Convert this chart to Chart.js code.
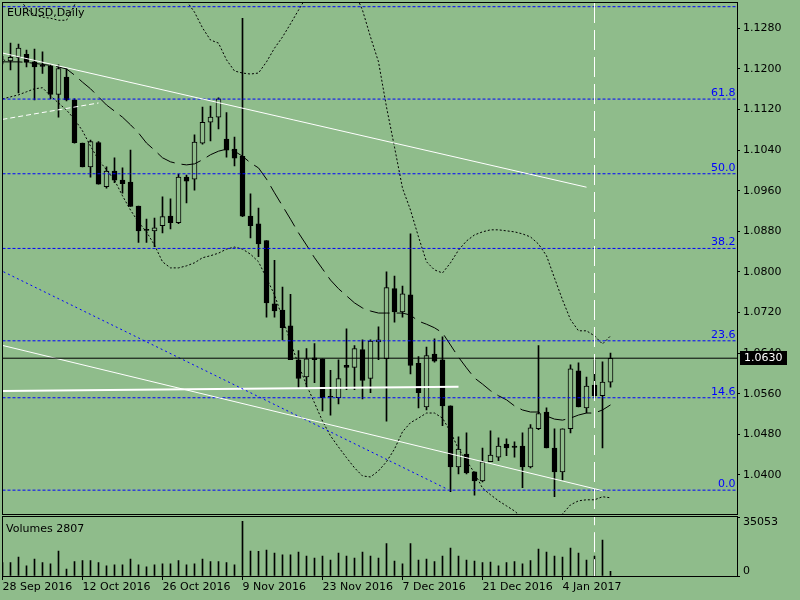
<!DOCTYPE html>
<html><head><meta charset="utf-8">
<script src="https://cdn.jsdelivr.net/npm/chart.js@4.4.0/dist/chart.umd.min.js"></script>
<style>
html,body{margin:0;padding:0;background:rgb(143,188,139);width:800px;height:600px;overflow:hidden}
canvas{position:absolute;left:0}
#main{top:0}
#vol{top:516px}
</style></head><body>
<canvas id="main" width="800" height="516"></canvas>
<canvas id="vol" width="800" height="84"></canvas>
<script>
// ---------- data (EURUSD Daily, bar 0 = 28 Sep 2016) ----------
const open = [1.1216,1.1216,1.1223,1.1229,1.1214,1.1206,1.1206,1.1150,1.1184,1.1139,
1.1054,1.1007,1.1055,1.0968,1.0999,1.0981,1.0977,1.0930,1.0883,1.0881,
1.0891,1.0910,1.0897,1.0987,1.0983,1.1054,1.1095,1.1105,1.1062,1.1042,
1.1028,1.0910,1.0895,1.0862,1.0737,1.0725,1.0694,1.0627,1.0593,1.0631,
1.0629,1.0554,1.0552,1.0616,1.0612,1.0647,1.0590,1.0662,1.0629,1.0767,
1.0721,1.0755,1.0620,1.0534,1.0638,1.0627,1.0536,1.0416,1.0441,1.0406,
1.0388,1.0426,1.0435,1.0461,1.0457,1.0457,1.0416,1.0491,1.0524,1.0453,
1.0406,1.0491,1.0605,1.0532,1.0577,1.0556,1.0583];
const high = [1.1225,1.1251,1.1249,1.1237,1.1239,1.1234,1.1208,1.1208,1.1201,1.1141,
1.1054,1.1060,1.1057,1.1007,1.1025,1.1005,1.1040,1.0930,1.0904,1.0906,
1.0948,1.0944,1.0993,1.0991,1.1070,1.1125,1.1127,1.1143,1.1114,1.1066,
1.1300,1.0954,1.0926,1.0862,1.0823,1.0770,1.0756,1.0645,1.0649,1.0659,
1.0629,1.0606,1.0627,1.0688,1.0655,1.0666,1.0666,1.0692,1.0800,1.0792,
1.0772,1.0875,1.0633,1.0652,1.0668,1.0672,1.0536,1.0475,1.0483,1.0406,
1.0453,1.0487,1.0473,1.0471,1.0465,1.0483,1.0499,1.0655,1.0532,1.0491,
1.0491,1.0617,1.0621,1.0593,1.0627,1.0623,1.0640];
const low = [1.1210,1.1198,1.1153,1.1204,1.1139,1.1191,1.1141,1.1105,1.1137,1.1054,
1.1007,1.0987,1.0973,1.0965,1.0976,1.0955,1.0929,1.0858,1.0858,1.0850,
1.0877,1.0885,1.0895,1.0936,1.0961,1.1052,1.1058,1.1082,1.1026,1.1009,
1.0909,1.0867,1.0830,1.0711,1.0711,1.0666,1.0627,1.0572,1.0572,1.0582,
1.0526,1.0518,1.0540,1.0568,1.0568,1.0550,1.0562,1.0627,1.0506,1.0701,
1.0711,1.0599,1.0532,1.0528,1.0622,1.0497,1.0367,1.0402,1.0402,1.0360,
1.0386,1.0426,1.0428,1.0438,1.0435,1.0375,1.0414,1.0489,1.0453,1.0357,
1.0390,1.0483,1.0534,1.0522,1.0552,1.0453,1.0573];
const close = [1.1218,1.1223,1.1241,1.1213,1.1204,1.1205,1.1150,1.1201,1.1139,1.1055,
1.1007,1.1057,1.0973,1.0999,1.0981,1.0974,1.0929,1.0881,1.0882,1.0887,
1.0909,1.0897,1.0987,1.0979,1.1056,1.1095,1.1105,1.1141,1.1040,1.1024,
1.0910,1.0891,1.0855,1.0739,1.0723,1.0690,1.0627,1.0590,1.0629,1.0627,
1.0552,1.0553,1.0590,1.0612,1.0649,1.0586,1.0664,1.0666,1.0769,1.0721,
1.0757,1.0616,1.0562,1.0635,1.0624,1.0536,1.0416,1.0451,1.0404,1.0388,
1.0426,1.0439,1.0457,1.0453,1.0454,1.0416,1.0493,1.0521,1.0453,1.0406,
1.0491,1.0609,1.0534,1.0575,1.0556,1.0583,1.0630];
const volume = [8000,7900,11300,6100,10100,7900,7300,14850,4150,8500,
9100,9100,7900,6100,6700,6700,10100,6700,5500,6700,
7300,7300,9100,6700,7300,10100,8500,8500,7900,6700,
32500,14850,14650,15450,13650,12650,12650,14250,11900,10700,
11900,9500,13650,11900,10700,14250,11900,10700,19200,8900,
7300,19200,9500,10100,8500,11900,16650,11900,9500,8900,
7900,8300,6100,7900,8500,7300,9100,16050,14250,11900,
11300,16650,13650,9500,11900,21400,2807];
const movingAvg = [1.1214,1.1214,1.1214,1.1213,1.1211,1.1209,1.1207,1.1204,1.1200,1.1188,
1.1174,1.1161,1.1145,1.1129,1.1117,1.1105,1.1090,1.1074,1.1054,1.1040,
1.1025,1.1017,1.1013,1.1011,1.1013,1.1021,1.1031,1.1038,1.1042,1.1038,
1.1028,1.1015,1.1005,1.0983,1.0956,1.0930,1.0904,1.0877,1.0853,1.0828,
1.0806,1.0784,1.0767,1.0753,1.0739,1.0729,1.0723,1.0719,1.0719,1.0719,
1.0719,1.0715,1.0703,1.0697,1.0690,1.0680,1.0656,1.0632,1.0611,1.0591,
1.0579,1.0566,1.0556,1.0548,1.0536,1.0528,1.0524,1.0524,1.0516,1.0510,
1.0508,1.0512,1.0518,1.0522,1.0522,1.0528,1.0538];
const bandUpper = [1.1385,1.1365,1.1340,1.1320,1.1306,1.1302,1.1300,1.1296,1.1296,1.1326,
1.1355,1.1375,1.1405,1.1424,1.1434,1.1444,1.1444,1.1434,1.1424,1.1405,
1.1385,1.1365,1.1350,1.1334,1.1312,1.1281,1.1257,1.1251,1.1218,1.1196,
1.1192,1.1190,1.1192,1.1214,1.1241,1.1263,1.1289,1.1316,1.1342,1.1365,
1.1385,1.1399,1.1405,1.1395,1.1352,1.1316,1.1263,1.1214,1.1125,1.1046,
1.0965,1.0922,1.0869,1.0820,1.0804,1.0798,1.0818,1.0843,1.0861,1.0873,
1.0879,1.0883,1.0883,1.0881,1.0879,1.0875,1.0869,1.0855,1.0832,1.0788,
1.0745,1.0706,1.0684,1.0684,1.0674,1.0658,1.0674];
const bandLower = [1.1141,1.1145,1.1149,1.1155,1.1161,1.1163,1.1147,1.1133,1.1119,1.1101,
1.1078,1.1048,1.1021,1.1001,1.0981,1.0950,1.0922,1.0898,1.0879,1.0853,
1.0820,1.0808,1.0808,1.0812,1.0818,1.0828,1.0832,1.0837,1.0845,1.0849,
1.0845,1.0835,1.0820,1.0788,1.0755,1.0709,1.0662,1.0617,1.0577,1.0542,
1.0506,1.0477,1.0455,1.0434,1.0414,1.0398,1.0396,1.0408,1.0426,1.0451,
1.0485,1.0503,1.0512,1.0522,1.0522,1.0512,1.0485,1.0451,1.0428,1.0404,
1.0374,1.0361,1.0349,1.0339,1.0329,1.0315,1.0307,1.0302,1.0304,1.0311,
1.0323,1.0341,1.0349,1.0351,1.0351,1.0357,1.0355];
const yTicks = [1.0400,1.0480,1.0560,1.0640,1.0720,1.0800,1.0880,1.0960,1.1040,1.1120,1.1200,1.1280];
const tickBars = [0,10,20,30,40,50,60,70];
const tickLabels = ['28 Sep 2016','12 Oct 2016','26 Oct 2016','9 Nov 2016','23 Nov 2016','7 Dec 2016','21 Dec 2016','4 Jan 2017'];
const fibLevels = [0, 14.6, 23.6, 38.2, 50.0, 61.8, 76.4];
const fibLow = 1.0370, fibHigh = 1.1617;
const trendUpper = [[-1,1.1235],[73,1.0967]];
const trendLower = [[-1,1.0659],[75,1.0369]];
const trendBlue = [[-1,1.0809],[55.6,1.0372]];
const trendDashed = [[-1,1.1098],[12,1.1133]];
const trendFlat = [[-1,1.0565],[57,1.0574]];
const vlineBar = 74;
const volMax = 35053;
const symbolTitle = 'EURUSD,Daily';

// ---------- setup ----------
const BG = 'rgb(143,188,139)';
const X_MIN = 0, X_MAX = 91.8125, Y_MIN = 1.0323, Y_MAX = 1.1330;
Chart.defaults.font.family = 'DejaVu Sans';
Chart.defaults.font.size = 11;
Chart.defaults.color = '#000';

const idx = close.map((_, i) => i);
const pts = a => a.map(([x, y]) => ({x, y}));
const series = a => a.map((v, i) => ({x: i, y: v}));
const hline = v => [{x: X_MIN, y: v}, {x: X_MAX, y: v}];
const lastClose = close[close.length - 1];
const fibPrice = l => fibLow + (fibHigh - fibLow) * l / 100;

const lineDs = (data, color, dash, width, order) => ({
  type: 'line', data, borderColor: color, borderWidth: width || 1, borderDash: dash || [],
  pointRadius: 0, fill: false, tension: 0, order: order, spanGaps: true
});

const fitY = s => { s.width = 63; s.paddingTop = 0; s.paddingBottom = 0; };
const fitX = s => { s.height = 24; s.paddingLeft = 0; s.paddingRight = 0; };

const frame = (ctx, ca) => {
  ctx.save();
  ctx.strokeStyle = '#000'; ctx.lineWidth = 1;
  const L = Math.floor(ca.left) + 0.5, T = Math.floor(ca.top) - 0.5;
  const R = Math.floor(ca.right) + 0.5, B = Math.floor(ca.bottom) + 0.5;
  ctx.strokeRect(L, T, R - L, B - T);
  ctx.restore();
};

const mainPlugin = {
  id: 'mainDeco',
  afterDatasetsDraw(chart) {
    const {ctx, chartArea: ca, scales: {y}} = chart;
    ctx.save();
    ctx.beginPath(); ctx.rect(ca.left, ca.top, ca.right - ca.left, ca.bottom - ca.top); ctx.clip();
    ctx.font = '11px "DejaVu Sans"'; ctx.fillStyle = '#0000ff';
    ctx.textAlign = 'right'; ctx.textBaseline = 'alphabetic';
    fibLevels.forEach(l => {
      const base = y.getPixelForValue(fibPrice(l)) - 3;
      if (base - 8 >= ca.top) ctx.fillText(l.toFixed(1), ca.right - 1.5, base);
    });
    ctx.fillStyle = '#000'; ctx.textAlign = 'left';
    ctx.fillText(symbolTitle, 7, 16);
    ctx.restore();
  },
  afterDraw(chart) {
    const {ctx, chartArea: ca, scales: {y}} = chart;
    frame(ctx, ca);
    const yp = Math.round(y.getPixelForValue(lastClose));
    ctx.save();
    ctx.fillStyle = '#000';
    ctx.fillRect(ca.right + 3, yp - 7, 47, 14);
    ctx.fillStyle = '#fff'; ctx.font = '11px "DejaVu Sans"';
    ctx.textAlign = 'left'; ctx.textBaseline = 'middle';
    ctx.fillText(lastClose.toFixed(4), ca.right + 7, yp + 0.5);
    ctx.restore();
  }
};

new Chart(document.getElementById('main'), {
  type: 'bar',
  data: {
    datasets: [
      {type: 'bar', data: idx.map(i => ({x: i, y: [low[i], high[i]]})), backgroundColor: '#000',
       borderWidth: 0, barThickness: 1, grouped: false, order: 100},
      {type: 'bar', data: idx.map(i => ({x: i, y: [open[i], close[i]]})),
       backgroundColor: idx.map(i => close[i] > open[i] ? BG : '#000'), borderColor: '#000',
       borderWidth: 1, borderSkipped: false, barThickness: 5, grouped: false, minBarLength: 1, order: 90},
      lineDs(series(bandUpper), '#000', [2, 2], 1, 50),
      lineDs(series(bandLower), '#000', [2, 2], 1, 50),
      lineDs(series(movingAvg), '#000', [20, 7], 1, 50),
      ...fibLevels.map(l => lineDs(hline(fibPrice(l)), '#0000ff', [3, 2], 1, 40)),
      lineDs(pts(trendUpper), '#fff', [], 1, 30),
      lineDs(pts(trendLower), '#fff', [], 1, 30),
      lineDs(pts(trendBlue), '#0000ff', [2, 3], 1, 30),
      lineDs(pts(trendDashed), '#fff', [5, 3], 1, 30),
      lineDs(pts(trendFlat), '#fff', [], 2, 30),
      lineDs(hline(lastClose), '#000', [], 1, 20),
      lineDs([{x: vlineBar, y: Y_MAX}, {x: vlineBar, y: Y_MIN}], '#fff', [20, 7], 1, 10)
    ]
  },
  options: {
    responsive: false, animation: false, devicePixelRatio: 1, events: [],
    layout: {padding: {left: 2.5, top: 3, right: 0, bottom: 2}},
    plugins: {legend: {display: false}, tooltip: {enabled: false}},
    scales: {
      x: {type: 'linear', min: X_MIN, max: X_MAX, display: false, offset: false, grid: {offset: false}},
      y: {
        type: 'linear', position: 'right', min: Y_MIN, max: Y_MAX,
        afterBuildTicks: s => { s.ticks = yTicks.map(v => ({value: v})); },
        afterFit: fitY,
        ticks: {callback: v => Number(v).toFixed(4), padding: 3, color: '#000', font: {size: 11}},
        grid: {drawOnChartArea: false, drawTicks: true, tickLength: 3, color: '#000'},
        border: {display: false}
      }
    }
  },
  plugins: [mainPlugin]
});

const volPlugin = {
  id: 'volDeco',
  afterDraw(chart) {
    const {ctx, chartArea: ca} = chart;
    frame(ctx, ca);
    ctx.save();
    ctx.font = '11px "DejaVu Sans"'; ctx.fillStyle = '#000';
    ctx.textAlign = 'left'; ctx.textBaseline = 'alphabetic';
    ctx.fillText('Volumes ' + volume[volume.length - 1], 6, 16);
    ctx.textBaseline = 'top';
    ctx.fillText(String(volMax), ca.right + 6, ca.top);
    ctx.textBaseline = 'bottom';
    ctx.fillText('0', ca.right + 6, ca.bottom + 1);
    ctx.restore();
  }
};

new Chart(document.getElementById('vol'), {
  type: 'bar',
  data: {
    datasets: [
      {type: 'bar', data: series(volume), backgroundColor: '#000', borderWidth: 0,
       barThickness: 1, grouped: false, order: 50, yAxisID: 'yv'},
      Object.assign(lineDs([{x: vlineBar, y: volMax * 1.2}, {x: vlineBar, y: 0}], '#fff', [20, 7], 1, 10), {yAxisID: 'yv'})
    ]
  },
  options: {
    responsive: false, animation: false, devicePixelRatio: 1, events: [],
    layout: {padding: {left: 2.5, top: 1, right: 0, bottom: 0}},
    plugins: {legend: {display: false}, tooltip: {enabled: false}},
    scales: {
      x: {
        type: 'linear', min: X_MIN, max: X_MAX, position: 'bottom', offset: false,
        afterBuildTicks: s => { s.ticks = tickBars.map(v => ({value: v})); },
        afterFit: fitX,
        ticks: {callback: v => tickLabels[tickBars.indexOf(v)], align: 'start', maxRotation: 0, minRotation: 0,
                autoSkip: false, padding: 1, color: '#000', font: {size: 11}},
        grid: {drawOnChartArea: false, tickLength: 4, color: '#000', offset: false},
        border: {display: false}
      },
      yv: {
        type: 'linear', position: 'right', min: 0, max: volMax,
        afterBuildTicks: s => { s.ticks = [{value: 0}, {value: volMax}]; },
        afterFit: fitY,
        ticks: {display: false},
        grid: {drawOnChartArea: false, tickLength: 3, color: '#000'},
        border: {display: false}
      }
    }
  },
  plugins: [volPlugin]
});
</script>
</body></html>
